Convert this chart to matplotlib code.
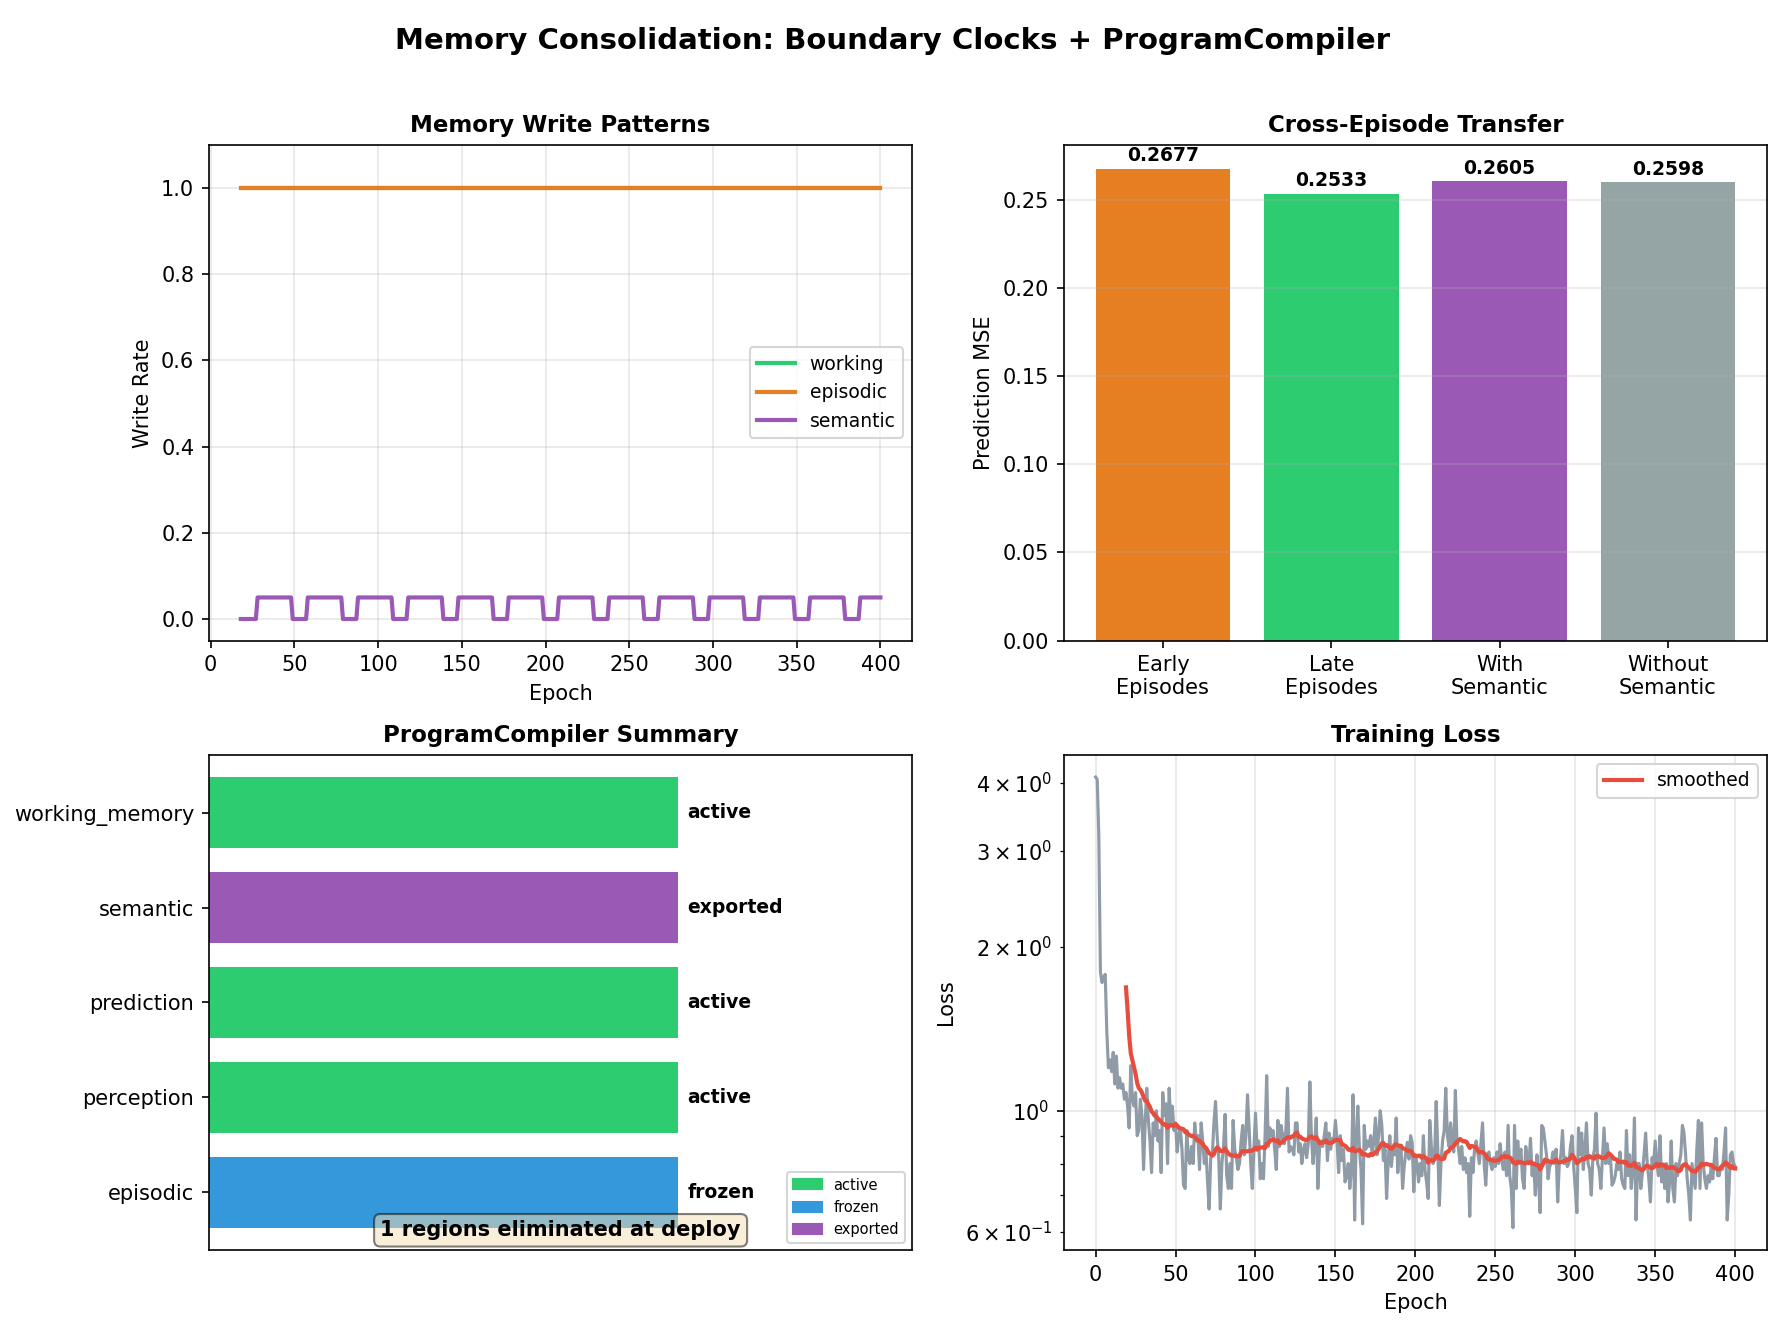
import numpy as np
import pandas as pd
import matplotlib
matplotlib.use("Agg")
import matplotlib.pyplot as plt
from matplotlib.patches import Patch

# ---- panel 1: memory write rates ----
write_epochs = np.arange(18, 401)
# epochs where the semantic write rate goes up to 0.05 / back down to 0
semantic_rise = [28, 58, 88, 118, 148, 178, 208, 238, 268, 298, 328, 358, 388]
semantic_fall = [49, 79, 109, 139, 169, 199, 229, 259, 289, 319, 349, 379]
semantic_high = 0.05
working_rate = 1.0
episodic_rate = 1.0

# ---- panel 2: cross-episode transfer ----
transfer_labels = ["Early\nEpisodes", "Late\nEpisodes", "With\nSemantic", "Without\nSemantic"]
transfer_mse = [0.2677, 0.2533, 0.2605, 0.2598]
transfer_colors = ["#e67e22", "#2ecc71", "#9b59b6", "#95a5a6"]

# ---- panel 3: program compiler ----
regions = ["episodic", "perception", "prediction", "semantic", "working_memory"]
region_status = ["frozen", "active", "active", "exported", "active"]
status_colors = {"active": "#2ecc71", "frozen": "#3498db", "exported": "#9b59b6"}
n_eliminated = 1

# ---- panel 4: training loss ----
loss = [
    4.10, 4.06, 3.20, 1.80, 1.72, 1.76, 1.78, 1.40, 1.20, 1.24,
    1.18, 1.28, 1.12, 1.26, 1.10, 1.15, 1.10, 1.12, 1.05, 1.08,
    1.02, 0.93, 1.21, 1.05, 1.02, 1.08, 0.90, 0.92, 1.05, 0.98,
    0.78, 0.95, 1.10, 0.96, 0.88, 0.77, 0.95, 0.90, 1.00, 0.88,
    0.92, 0.77, 1.08, 0.98, 1.03, 0.80, 1.10, 0.95, 1.02, 0.92,
    0.95, 0.84, 0.90, 0.93, 0.85, 0.73, 0.72, 0.92, 0.82, 0.80,
    0.86, 0.80, 0.95, 0.88, 0.90, 0.78, 0.95, 0.88, 0.80, 0.85,
    0.74, 0.66, 0.82, 0.83, 0.95, 1.04, 0.90, 0.82, 0.66, 0.80,
    0.86, 0.985, 0.76, 0.72, 0.80, 0.72, 0.96, 0.85, 0.82, 0.78,
    0.80, 0.88, 0.94, 0.83, 0.90, 1.07, 0.93, 0.80, 0.72, 0.85,
    0.99, 0.85, 0.88, 0.75, 0.80, 0.75, 0.90, 1.16, 0.86, 0.93,
    0.90, 0.92, 0.85, 0.78, 0.96, 0.86, 0.94, 0.90, 0.87, 0.92,
    1.10, 0.84, 0.86, 0.85, 0.83, 0.95, 0.95, 0.84, 0.87, 0.80,
    0.85, 0.87, 0.82, 0.87, 1.13, 0.89, 0.80, 0.87, 0.97, 0.72,
    0.85, 0.88, 0.86, 0.90, 0.95, 0.81, 0.91, 0.85, 0.89, 0.88,
    0.96, 0.88, 0.77, 0.90, 0.81, 0.85, 0.74, 0.76, 0.80, 0.72,
    0.78, 1.07, 0.63, 0.90, 1.02, 0.85, 0.78, 0.62, 0.94, 0.85,
    0.88, 0.86, 0.90, 0.83, 0.88, 0.97, 0.83, 0.90, 1.00, 0.94,
    0.81, 0.85, 0.69, 0.81, 0.90, 0.79, 0.86, 0.83, 0.97, 0.77,
    0.86, 0.86, 0.72, 0.79, 0.84, 0.875, 0.815, 0.90, 0.875, 0.71,
    0.83, 0.80, 0.74, 0.80, 0.76, 0.90, 0.78, 0.74, 0.69, 0.96,
    0.86, 0.80, 0.82, 1.04, 0.85, 0.67, 0.80, 0.88, 0.92, 1.10,
    0.90, 0.86, 0.95, 0.88, 0.84, 1.09, 0.88, 0.85, 0.80, 0.86,
    0.78, 0.82, 0.77, 0.80, 0.64, 0.82, 0.77, 0.85, 0.88, 0.84,
    0.80, 0.87, 0.95, 0.80, 0.73, 0.83, 0.84, 0.80, 0.78, 0.82,
    0.79, 0.84, 0.80, 0.87, 0.81, 0.78, 0.84, 0.76, 0.94, 0.76,
    0.72, 0.61, 0.94, 0.72, 0.88, 0.80, 0.85, 0.75, 0.72, 0.86,
    0.82, 0.80, 0.89, 0.76, 0.80, 0.70, 0.83, 0.75, 0.65, 0.94,
    0.93, 0.88, 0.83, 0.75, 0.79, 0.80, 0.84, 0.80, 0.85, 0.68,
    0.80, 0.83, 0.92, 0.80, 0.82, 0.79, 0.80, 0.86, 0.90, 0.79,
    0.72, 0.65, 0.93, 0.83, 0.91, 0.78, 0.85, 0.95, 0.80, 0.78,
    0.70, 0.82, 0.85, 0.99, 0.80, 0.78, 0.72, 0.82, 0.93, 0.80,
    0.87, 0.80, 0.82, 0.73, 0.74, 0.76, 0.80, 0.78, 0.84, 0.75,
    0.73, 0.72, 0.92, 0.76, 0.83, 0.72, 0.78, 0.97, 0.63, 0.80,
    0.80, 0.72, 0.77, 0.83, 0.91, 0.80, 0.75, 0.68, 0.82, 0.80,
    0.88, 0.80, 0.76, 0.90, 0.74, 0.79, 0.72, 0.80, 0.68, 0.74,
    0.88, 0.72, 0.68, 0.80, 0.76, 0.80, 0.83, 0.94, 0.91, 0.83,
    0.75, 0.70, 0.63, 0.80, 0.76, 0.72, 0.85, 0.96, 0.72, 0.95,
    0.80, 0.75, 0.72, 0.76, 0.74, 0.79, 0.75, 0.82, 0.89, 0.76,
    0.76, 0.79, 0.78, 0.84, 0.93, 0.63, 0.70, 0.83, 0.84, 0.80,
    0.79,
]
smooth_window = 20

plt.rcParams["legend.fontsize"] = 9

fig, axes = plt.subplots(2, 2, figsize=(11.9, 8.867), dpi=150)
fig.subplots_adjust(left=0.117, right=0.99, top=0.891, bottom=0.060,
                    wspace=0.215, hspace=0.23)
fig.suptitle("Memory Consolidation: Boundary Clocks + ProgramCompiler",
             fontsize=14, fontweight="bold", y=0.98)

# Memory write patterns
ax = axes[0, 0]
semantic = np.zeros(len(write_epochs))
for i, e in enumerate(write_epochs):
    ups = [r for r in semantic_rise if r <= e]
    downs = [f for f in semantic_fall if f <= e]
    if ups and (not downs or max(ups) > max(downs)):
        semantic[i] = semantic_high
ax.plot(write_epochs, np.full(len(write_epochs), working_rate), color="#2ecc71", lw=2, label="working")
ax.plot(write_epochs, np.full(len(write_epochs), episodic_rate), color="#e67e22", lw=2, label="episodic")
ax.plot(write_epochs, semantic, color="#9b59b6", lw=2, label="semantic")
ax.set_ylim(-0.05, 1.1)
ax.set_xlabel("Epoch")
ax.set_ylabel("Write Rate")
ax.set_title("Memory Write Patterns", fontsize=11, fontweight="bold")
ax.legend(loc="center right")
ax.grid(True, alpha=0.3)

# Cross-episode transfer
ax = axes[0, 1]
bars = ax.bar(range(len(transfer_labels)), transfer_mse, color=transfer_colors)
for b, v in zip(bars, transfer_mse):
    ax.text(b.get_x() + b.get_width() / 2, v + 0.002, f"{v:.4f}",
            ha="center", va="bottom", fontsize=9, fontweight="bold")
ax.set_xticks(range(len(transfer_labels)))
ax.set_xticklabels(transfer_labels, fontsize=10)
ax.set_ylabel("Prediction MSE")
ax.set_title("Cross-Episode Transfer", fontsize=11, fontweight="bold")
ax.grid(True, axis="y", alpha=0.3)

# ProgramCompiler summary
ax = axes[1, 0]
colors = [status_colors[s] for s in region_status]
ax.barh(range(len(regions)), [1] * len(regions), height=0.75, color=colors)
for i, s in enumerate(region_status):
    ax.text(1.02, i, s, va="center", fontsize=9, fontweight="bold")
ax.set_yticks(range(len(regions)))
ax.set_yticklabels(regions)
ax.set_xlim(0, 1.5)
ax.set_xticks([])
ax.set_title("ProgramCompiler Summary", fontsize=11, fontweight="bold")
handles = [Patch(color=c, label=k) for k, c in status_colors.items()]
ax.legend(handles=handles, loc="lower right", fontsize=7)
ax.text(0.5, 0.02, f"{n_eliminated} regions eliminated at deploy", transform=ax.transAxes,
        ha="center", va="bottom", fontsize=10, fontweight="bold",
        bbox=dict(boxstyle="round", facecolor="wheat", alpha=0.5))

# Training loss
ax = axes[1, 1]
epochs = np.arange(len(loss))
smoothed = pd.Series(loss).rolling(smooth_window).mean()
ax.plot(epochs, loss, color="#8f9ba6", lw=1.5)
ax.plot(epochs, smoothed, color="#e74c3c", lw=2, label="smoothed")
ax.set_yscale("log")
ax.set_xlabel("Epoch")
ax.set_ylabel("Loss")
ax.set_title("Training Loss", fontsize=11, fontweight="bold")
ax.legend(loc="upper right")
ax.grid(True, alpha=0.3)

fig.savefig("out.png", dpi=150)
